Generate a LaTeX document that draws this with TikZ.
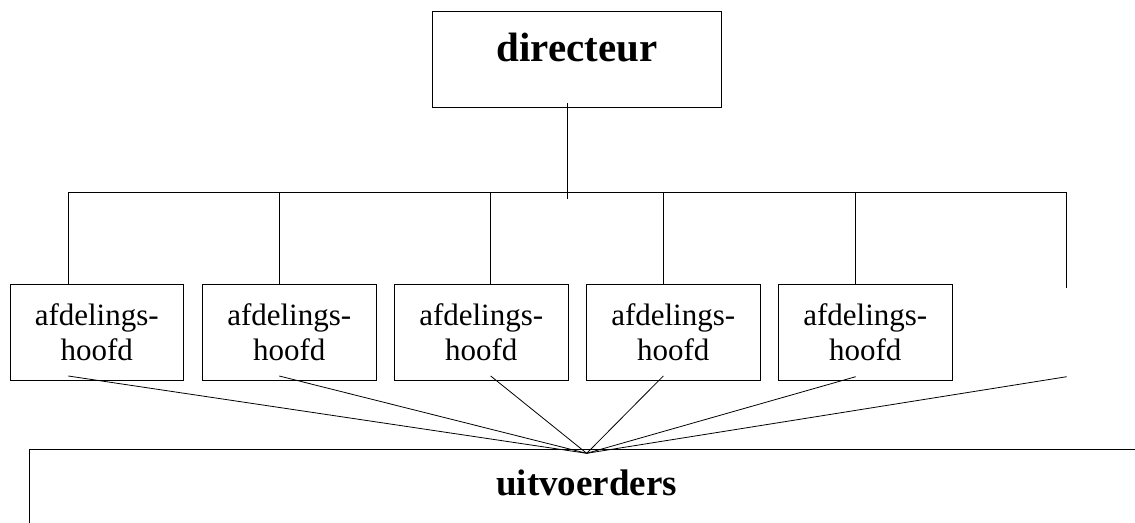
\documentclass[tikz,border=0pt]{standalone}
\usepackage{fontspec}
\setmainfont{Liberation Serif}

\begin{document}
\begin{tikzpicture}[x=1pt, y=-1pt, line width=0.8pt,
        dirbox/.style={draw, inner sep=0pt, minimum width=289pt, minimum height=96pt,
            text height=30pt, text depth=24.6pt, font=\fontsize{41}{45}\selectfont\bfseries},
        afdbox/.style={draw, inner sep=0pt, minimum width=173.5pt, minimum height=95.7pt,
            align=center, font=\fontsize{31}{35}\selectfont},
        uitbox/.style={draw, inner sep=0pt, minimum width=1114.8pt, minimum height=90pt,
            text height=26pt, text depth=24pt, font=\fontsize{37}{41}\selectfont\bfseries}]
        \useasboundingbox (0,0) rectangle (1135,522);
        \clip (0,0) rectangle (1135,522);

        \node[dirbox] (directeur) at (577.2, 59) {directeur};

        \node[afdbox] (afd1) at (96.75, 332.2) {afdelings-\\hoofd};
        \node[afdbox] (afd2) at (289.25, 332.2) {afdelings-\\hoofd};
        \node[afdbox] (afd3) at (481.25, 332.2) {afdelings-\\hoofd};
        \node[afdbox] (afd4) at (673.25, 332.2) {afdelings-\\hoofd};
        \node[afdbox] (afd5) at (865.25, 332.2) {afdelings-\\hoofd};

        \node[uitbox] (uitvoerders) at (586.7, 494) {uitvoerders};

        % bus below the director
        \coordinate (stemtop) at (567.3, 103.3);
        \coordinate (stemend) at (567.3, 199);
        \coordinate (d1) at (68.3, 192.7);
        \coordinate (d2) at (279.3, 192.7);
        \coordinate (d3) at (490.7, 192.7);
        \coordinate (d4) at (663.3, 192.7);
        \coordinate (d5) at (855.7, 192.7);
        \coordinate (d6) at (1066.7, 192.7);
        \coordinate (e6) at (1066.7, 288);

        \draw (stemtop) -- (stemend);
        \draw (d1) -- (d6);
        \draw (d1) -- (d1 |- afd1.north);
        \draw (d2) -- (d2 |- afd2.north);
        \draw (d3) -- (d3 |- afd3.north);
        \draw (d4) -- (d4 |- afd4.north);
        \draw (d5) -- (d5 |- afd5.north);
        \draw (d6) -- (e6);

        % lines down to the executors
        \coordinate (hub) at (586.7, 453.3);
        \coordinate (b1) at (68.3, 376);
        \coordinate (b2) at (279.3, 376);
        \coordinate (b3) at (490.7, 376);
        \coordinate (b4) at (663.3, 376);
        \coordinate (b5) at (855.7, 376.7);
        \coordinate (b6) at (1066.7, 376.7);

        \draw (b1) -- (hub);
        \draw (b2) -- (hub);
        \draw (b3) -- (hub);
        \draw (b4) -- (hub);
        \draw (b5) -- (hub);
        \draw (b6) -- (hub);
    \end{tikzpicture}
\end{document}
